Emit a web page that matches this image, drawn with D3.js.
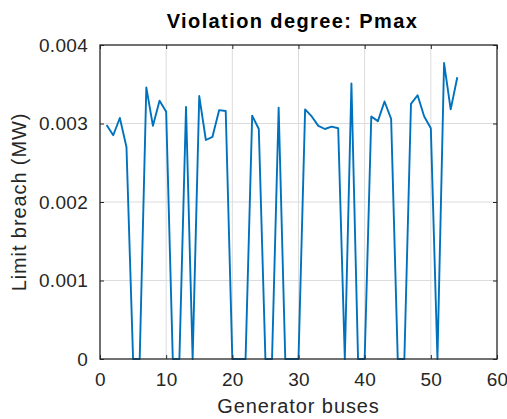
<!DOCTYPE html>
<html>
<head>
<meta charset="utf-8">
<script src="https://cdn.jsdelivr.net/npm/d3@7"></script>
<style>
  body { margin: 0; background: #fff; }
  svg { display: block; font-family: "Liberation Sans", Arial, sans-serif; }
</style>
</head>
<body>
<div id="chart"></div>
<script>
// generator bus index and limit breach (MW)
var buses = d3.range(1, 55);
var breach = [
  0.00298, 0.00285, 0.00307, 0.00270, 0, 0, 0.00346, 0.00297, 0.00329, 0.00315,
  0, 0, 0.00321, 0, 0.00335, 0.00279, 0.00283, 0.00317, 0.00316, 0,
  0, 0, 0.00310, 0.00293, 0, 0, 0.00320, 0, 0, 0,
  0.00318, 0.00309, 0.00297, 0.00293, 0.00296, 0.00294, 0, 0.00351, 0, 0,
  0.00309, 0.00303, 0.00328, 0.00306, 0, 0, 0.00325, 0.00336, 0.00309, 0.00294,
  0, 0.00377, 0.00318, 0.00359
];
var xTicks = [0, 10, 20, 30, 40, 50, 60];
var yTicks = [0, 0.001, 0.002, 0.003, 0.004];

var width = 507, height = 419;
var margin = {top: 45, right: 10, bottom: 60, left: 100};
var w = width - margin.left - margin.right,
  h = height - margin.top - margin.bottom;

var svg = d3.select("#chart").append("svg")
  .attr("width", width)
  .attr("height", height);

var g = svg.append("g")
  .attr("transform", `translate(${margin.left},${margin.top})`);

var x = d3.scaleLinear().domain([0, 60]).range([0, w]);
var y = d3.scaleLinear().domain([0, 0.004]).range([h, 0]);

// grid
g.append("g").selectAll("line.gx")
  .data(xTicks.slice(1, -1))
  .enter().append("line")
  .attr("x1", d => x(d)).attr("x2", d => x(d))
  .attr("y1", 0).attr("y2", h)
  .attr("stroke", "#dcdcdc").attr("stroke-width", 1);

g.append("g").selectAll("line.gy")
  .data(yTicks.slice(1, -1))
  .enter().append("line")
  .attr("y1", d => y(d)).attr("y2", d => y(d))
  .attr("x1", 0).attr("x2", w)
  .attr("stroke", "#dcdcdc").attr("stroke-width", 1);

// data line
var line = d3.line()
  .x((d, i) => x(buses[i]))
  .y(d => y(d));

g.append("path")
  .datum(breach)
  .attr("fill", "none")
  .attr("stroke", "#0072BD")
  .attr("stroke-width", 1.9)
  .attr("stroke-linejoin", "round")
  .attr("d", line);

// axes (ticks inside, box on)
function styleAxis(sel) {
  sel.select(".domain").remove();
  sel.selectAll(".tick line").attr("stroke", "#262626");
  sel.selectAll(".tick text")
    .attr("fill", "#262626")
    .style("font-size", "19px")
    .style("letter-spacing", "0.3px");
}

g.append("g")
  .attr("transform", `translate(0,${h})`)
  .call(d3.axisBottom(x).tickValues(xTicks).tickSizeInner(-4).tickPadding(14))
  .call(styleAxis);

g.append("g")
  .call(d3.axisLeft(y).tickValues(yTicks).tickSizeInner(-4).tickPadding(12)
    .tickFormat(d => d === 0 ? "0" : d3.format(".3f")(d)))
  .call(styleAxis);

g.append("g")
  .call(d3.axisTop(x).tickValues(xTicks).tickSizeInner(-4).tickFormat(""))
  .call(styleAxis);

g.append("g")
  .attr("transform", `translate(${w},0)`)
  .call(d3.axisRight(y).tickValues(yTicks).tickSizeInner(-4).tickFormat(""))
  .call(styleAxis);

g.append("rect")
  .attr("width", w).attr("height", h)
  .attr("fill", "none")
  .attr("stroke", "#262626")
  .attr("stroke-width", 1.3);

// labels
svg.append("text")
  .attr("x", margin.left + w / 2 - 6)
  .attr("y", 28)
  .attr("text-anchor", "middle")
  .style("font-size", "20px")
  .style("font-weight", "bold")
  .style("letter-spacing", "1.4px")
  .attr("fill", "#000")
  .text("Violation degree: Pmax");

svg.append("text")
  .attr("x", margin.left + w / 2)
  .attr("y", 413)
  .attr("text-anchor", "middle")
  .style("font-size", "20px")
  .style("letter-spacing", "0.9px")
  .attr("fill", "#262626")
  .text("Generator buses");

svg.append("text")
  .attr("transform", `translate(26,${margin.top + h / 2}) rotate(-90)`)
  .attr("text-anchor", "middle")
  .style("font-size", "20px")
  .style("letter-spacing", "0.9px")
  .attr("fill", "#262626")
  .text("Limit breach (MW)");
</script>
</body>
</html>
